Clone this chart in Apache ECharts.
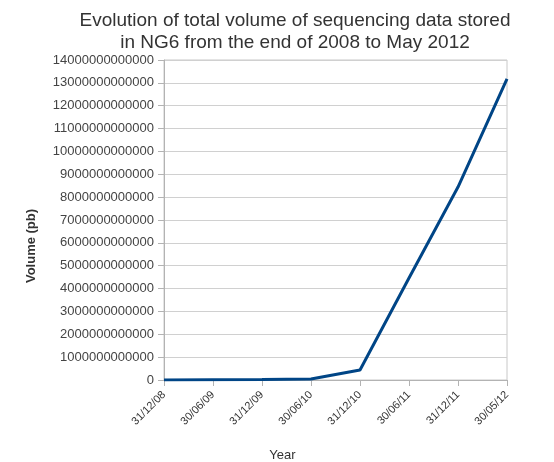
<!DOCTYPE html>
<html>
<head>
<meta charset="utf-8">
<script src="https://cdn.jsdelivr.net/npm/echarts@6/dist/echarts.min.js"></script>
<style>
  html, body { margin: 0; padding: 0; background: #fff; }
  #chart { width: 554px; height: 462px; }
</style>
</head>
<body>
<div id="chart"></div>
<script>
// dates on the x axis
const dates = ['31/12/08', '30/06/09', '31/12/09', '30/06/10', '31/12/10', '30/06/11', '31/12/11', '30/05/12'];
// total stored volume
const volume = [5e9, 15e9, 25e9, 40e9, 440e9, 4460e9, 8440e9, 13170e9];
const yTicks = { min: 0, max: 14000000000000, interval: 1000000000000 };

const chart = echarts.init(document.getElementById('chart'));

chart.setOption({
  animation: false,
  backgroundColor: '#fff',
  textStyle: { fontFamily: 'Liberation Sans' },
  title: {
    text: 'Evolution of total volume of sequencing data stored\nin NG6 from the end of 2008 to May 2012',
    left: 290,
    top: 5,
    textAlign: 'center',
    textStyle: {
      fontSize: 19,
      fontWeight: 'normal',
      color: '#333',
      lineHeight: 22
    }
  },
  grid: {
    left: 164,
    right: 47,
    top: 60,
    bottom: 82,
    outerBoundsMode: 'none',
    containLabel: false,
    show: true,
    borderColor: '#c8c8c8',
    borderWidth: 1
  },
  xAxis: {
    type: 'category',
    data: dates,
    boundaryGap: false,
    name: 'Year',
    nameLocation: 'middle',
    nameGap: 69,
    nameTextStyle: { fontSize: 13, color: '#333', padding: [0, 106, 0, 0] },
    axisLine: { lineStyle: { color: '#b3b3b3' } },
    axisTick: { show: true, length: 6, lineStyle: { color: '#b3b3b3' } },
    axisLabel: { rotate: 45, fontSize: 11, color: '#333', margin: 13 },
    splitLine: { show: false }
  },
  yAxis: {
    type: 'value',
    min: yTicks.min,
    max: yTicks.max,
    interval: yTicks.interval,
    name: 'Volume (pb)',
    nameLocation: 'middle',
    nameGap: 126,
    nameTextStyle: { fontSize: 13, fontWeight: 'bold', color: '#333', padding: [0, 52, 0, 0] },
    axisLine: { show: true, lineStyle: { color: '#b3b3b3' } },
    axisTick: { show: true, length: 6, lineStyle: { color: '#b3b3b3' } },
    axisLabel: {
      fontSize: 13,
      color: '#444',
      margin: 10,
      formatter: v => String(v)
    },
    splitLine: { lineStyle: { color: '#d0d0d0', width: 1 } }
  },
  series: [{
    type: 'line',
    data: volume,
    showSymbol: false,
    lineStyle: { color: '#004586', width: 3 },
    itemStyle: { color: '#004586' }
  }]
});
</script>
</body>
</html>
